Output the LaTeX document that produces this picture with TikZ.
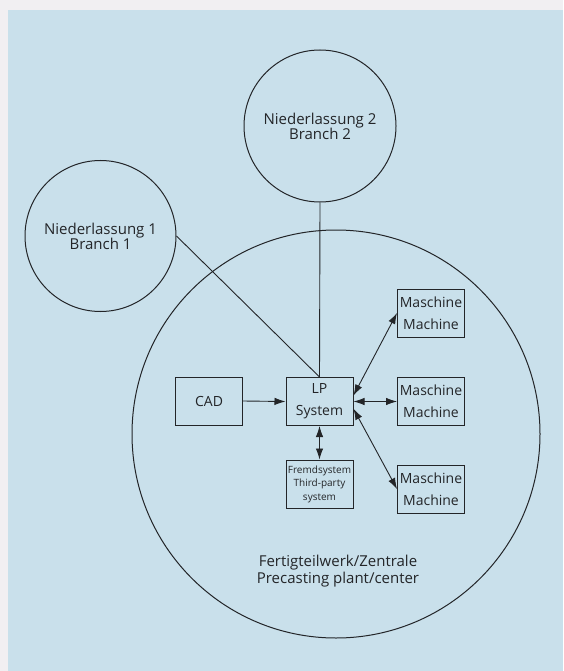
\documentclass[tikz,border=0pt]{standalone}
\usepackage{fontspec}
\setmainfont{Open Sans}
\usepackage{tikz}
\usetikzlibrary{positioning, arrows.meta}
\definecolor{scanblue}{RGB}{201,224,235}
\definecolor{paper}{RGB}{241,239,242}
\definecolor{ink}{RGB}{35,37,40}

\begin{document}
\begin{tikzpicture}[x=1pt,y=-1pt,
  site/.style={circle,draw=ink,line width=1pt,inner sep=0pt,align=center,text=ink,
    font=\fontsize{15pt}{15pt}\selectfont},
  box/.style={draw=ink,line width=1pt,inner sep=0pt,minimum width=67pt,minimum height=48pt,
    align=center,text=ink,font=\fontsize{14pt}{22pt}\selectfont},
  link/.style={ink,line width=0.9pt},
  arr/.style={link,-{Latex[length=11pt,width=7.5pt]}},
  biarr/.style={link,{Latex[length=11pt,width=7.5pt]}-{Latex[length=11pt,width=7.5pt]}}]
\useasboundingbox (0,0) rectangle (563,671);
\fill[paper] (0,0) rectangle (563,671);
\fill[scanblue] (8,10) rectangle (563,671);

\node[site,minimum size=408pt] (plant) at (336,434) {};
\node[text=ink,align=center,font=\fontsize{15pt}{17pt}\selectfont] (plantlabel) at (338,571)
  {Fertigteilwerk/Zentrale\\Precasting plant/center};
\node[site,minimum size=151pt] (b1) at (100.5,236) {Niederlassung 1\\Branch 1};
\node[site,minimum size=152pt] (b2) at (320,126) {Niederlassung 2\\Branch 2};

\node[box] (cad) at (209,401) {CAD};
\node[box] (lp) at (319.5,401.5) {LP\\System};
\node[box,font=\fontsize{10pt}{13.5pt}\selectfont] (fremd) at (319.5,484)
  {Fremdsystem\\Third-party\\system};

\draw[link] (b1.east) -- (lp.north);
\draw[link] (b2.south) -- (lp.north);
\draw[arr] (cad.east) -- (lp.west);
\draw[biarr] (lp.south) -- (fremd.north);
\foreach \i/\y/\a in {1/313/10,2/401.5/0,3/489/-12}{
  \node[box] (m\i) at (431,\y) {Maschine\\Machine};
  \draw[biarr] (lp.\a) -- (m\i.west);
}
\end{tikzpicture}
\end{document}
